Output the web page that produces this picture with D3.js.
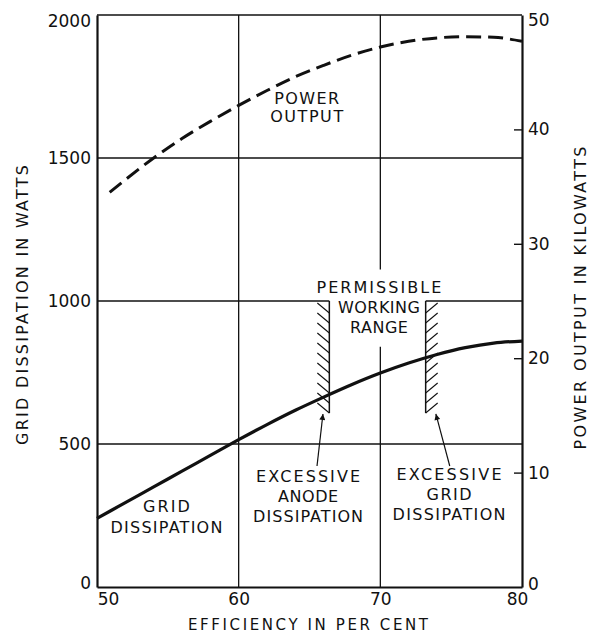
<!DOCTYPE html>
<html><head><meta charset="utf-8">
<script src="https://cdn.jsdelivr.net/npm/d3@7"></script>
<style>
body{margin:0;background:#fff}
text{font-family:"DejaVu Sans",sans-serif;fill:#111}
</style>
</head><body><svg id="c" width="594" height="635"></svg>
<script>
// ---- data ----
const efficiency       = [50,52,54,56,58,60,62,64,66,68,70,72,74,76,78,80];
const gridDissipationW = [240,295,350,405,460,515,568,618,664,708,748,783,813,837,853,860];
const powerEfficiency  = [50.9,52,54,56,58,60,62,64,66,68,70,72,74,76,78,80];
const powerOutputKW    = [34.5,35.6,37.5,39.2,40.7,42.1,43.4,44.6,45.6,46.5,47.2,47.7,48.0,48.1,48.05,47.7];
const xTicks     = [50,60,70,80];
const leftTicks  = [0,500,1000,1500,2000];
const rightTicks = [0,10,20,30,40,50];
const xGridLines = [60,70];
const yGridLines = [500,1000,1500];
const anodeLimitEff = 66.4, gridLimitEff = 73.2;
const limitTopW = 1000, limitBottomW = 608;
const gapTopW = 1110, gapBottomW = 840;   // break in the 70% grid line around the label
const labels = [
  {lines:["POWER","OUTPUT"], x:64.8, y:[1689,1626], w:[65,73]},
  {lines:["PERMISSIBLE","WORKING","RANGE"], x:69.9, y:[1028,958,888], w:[125,82,58]},
  {lines:["GRID","DISSIPATION"], x:54.9, y:[262,189], w:[47,112]},
  {lines:["EXCESSIVE","ANODE","DISSIPATION"], x:64.9, y:[367,297,227], w:[104,60,110]},
  {lines:["EXCESSIVE","GRID","DISSIPATION"], x:74.85, y:[374,304,234], w:[105,45,113]}
];
const arrows = [
  {from:[65.53,423], to:[65.95,605]},
  {from:[74.9,423], to:[73.92,605]}
];

// ---- drawing ----
const svg = d3.select("#c");
const L=97, R=522, T=15, B=587;
const x  = d3.scaleLinear([50,80],[L,R]);
const y  = d3.scaleLinear([0,2000],[B,T]);
const yR = d3.scaleLinear([0,50],[B,T]);

const defs = svg.append("defs");
defs.append("marker").attr("id","ah").attr("viewBox","0 0 10 10")
  .attr("refX",10).attr("refY",5).attr("markerWidth",9).attr("markerHeight",6)
  .attr("markerUnits","userSpaceOnUse").attr("orient","auto")
  .append("path").attr("d","M0,0 L10,5 L0,10 Z").attr("fill","#111");

const g = svg.append("g");
// grid lines
xGridLines.forEach(v=>{
  if(v===70){
    g.append("line").attr("x1",x(v)).attr("x2",x(v)).attr("y1",T).attr("y2",y(gapTopW)).attr("stroke","#111").attr("stroke-width",1.3);
    g.append("line").attr("x1",x(v)).attr("x2",x(v)).attr("y1",y(gapBottomW)).attr("y2",B).attr("stroke","#111").attr("stroke-width",1.3);
  } else {
    g.append("line").attr("x1",x(v)).attr("x2",x(v)).attr("y1",T).attr("y2",B).attr("stroke","#111").attr("stroke-width",1.3);
  }
});
yGridLines.forEach(v=>{
  if(v===limitTopW){
    g.append("line").attr("x1",L).attr("x2",x(anodeLimitEff)).attr("y1",y(v)).attr("y2",y(v)).attr("stroke","#111").attr("stroke-width",1.3);
    g.append("line").attr("x1",x(gridLimitEff)).attr("x2",R).attr("y1",y(v)).attr("y2",y(v)).attr("stroke","#111").attr("stroke-width",1.3);
  } else {
    g.append("line").attr("x1",L).attr("x2",R).attr("y1",y(v)).attr("y2",y(v)).attr("stroke","#111").attr("stroke-width",1.3);
  }
});
// top frame
g.append("line").attr("x1",L).attr("x2",R).attr("y1",T).attr("y2",T).attr("stroke","#111").attr("stroke-width",1.6);

// hatched limits
const yTop = y(limitTopW), yBot = y(limitBottomW);
[anodeLimitEff, gridLimitEff].forEach((e,i)=>{
  const xv = x(e);
  g.append("line").attr("x1",xv).attr("x2",xv).attr("y1",yTop).attr("y2",yBot).attr("stroke","#111").attr("stroke-width",1.5);
  d3.range(yTop+2, yBot-6, 10).forEach(yy=>{
    if(i===0) g.append("line").attr("x1",xv-12).attr("y1",yy).attr("x2",xv).attr("y2",yy+10).attr("stroke","#111").attr("stroke-width",1.1);
    else g.append("line").attr("x1",xv).attr("y1",yy+10).attr("x2",xv+12).attr("y2",yy).attr("stroke","#111").attr("stroke-width",1.1);
  });
});

// curves
const gridLine = d3.line().x((d,i)=>x(efficiency[i])).y(d=>y(d)).curve(d3.curveMonotoneX);
g.append("path").attr("d",gridLine(gridDissipationW)).attr("fill","none").attr("stroke","#111").attr("stroke-width",3.2);
const powLine = d3.line().x((d,i)=>x(powerEfficiency[i])).y(d=>yR(d)).curve(d3.curveMonotoneX);
g.append("path").attr("d",powLine(powerOutputKW)).attr("fill","none").attr("stroke","#111").attr("stroke-width",3)
  .attr("stroke-dasharray","15,7");

// axes
const fmt = d3.format("d");
const axL = svg.append("g").attr("transform",`translate(${L},0)`)
  .call(d3.axisLeft(y).tickValues(leftTicks).tickFormat(fmt).tickSize(0).tickPadding(6));
const axR = svg.append("g").attr("transform",`translate(${R},0)`)
  .call(d3.axisRight(yR).tickValues(rightTicks).tickFormat(fmt).tickSizeInner(-8).tickSizeOuter(0).tickPadding(6));
const axB = svg.append("g").attr("transform",`translate(0,${B})`)
  .call(d3.axisBottom(x).tickValues(xTicks).tickFormat(fmt).tickSize(0).tickPadding(6));
[axL,axR,axB].forEach(a=>{
  a.select(".domain").attr("stroke","#111").attr("stroke-width",2.2);
  a.selectAll(".tick line").attr("stroke","#111").attr("stroke-width",1.4);
  a.selectAll("text").attr("font-family","DejaVu Sans").attr("font-size",17).attr("fill","#111");
});
axR.selectAll(".tick").filter(d=>d===0||d===50).select("line").remove();
axL.selectAll(".tick").filter(d=>d===2000).select("text").attr("y",6);
axL.selectAll(".tick").filter(d=>d===0).select("text").attr("y",-4);
axR.selectAll(".tick").filter(d=>d===50).select("text").attr("y",5);
axR.selectAll(".tick").filter(d=>d===0).select("text").attr("y",-3);
axB.selectAll(".tick").filter(d=>d===50).select("text").attr("x",11);
axB.selectAll(".tick").filter(d=>d===80).select("text").attr("x",-5);

// annotations
labels.forEach(lb=>{
  lb.lines.forEach((t,i)=>{
    svg.append("text").attr("x",x(lb.x)).attr("y",y(lb.y[i])).attr("text-anchor","middle")
      .attr("font-size",16).attr("textLength",lb.w[i]).attr("lengthAdjust","spacing").text(t);
  });
});
arrows.forEach(a=>{
  svg.append("line").attr("x1",x(a.from[0])).attr("y1",y(a.from[1])).attr("x2",x(a.to[0])).attr("y2",y(a.to[1]))
    .attr("stroke","#111").attr("stroke-width",1.2).attr("marker-end","url(#ah)");
});

// axis titles
svg.append("text").attr("transform","translate(22,305) rotate(-90)").attr("text-anchor","middle").attr("dy","0.35em")
  .attr("font-size",16).attr("textLength",280).attr("lengthAdjust","spacing").text("GRID DISSIPATION IN WATTS");
svg.append("text").attr("transform","translate(580,298) rotate(-90)").attr("text-anchor","middle").attr("dy","0.35em")
  .attr("font-size",16).attr("textLength",303).attr("lengthAdjust","spacing").text("POWER OUTPUT IN KILOWATTS");
svg.append("text").attr("x",308).attr("y",630).attr("text-anchor","middle")
  .attr("font-size",15).attr("textLength",240).attr("lengthAdjust","spacing").text("EFFICIENCY IN PER CENT");
</script></body></html>
